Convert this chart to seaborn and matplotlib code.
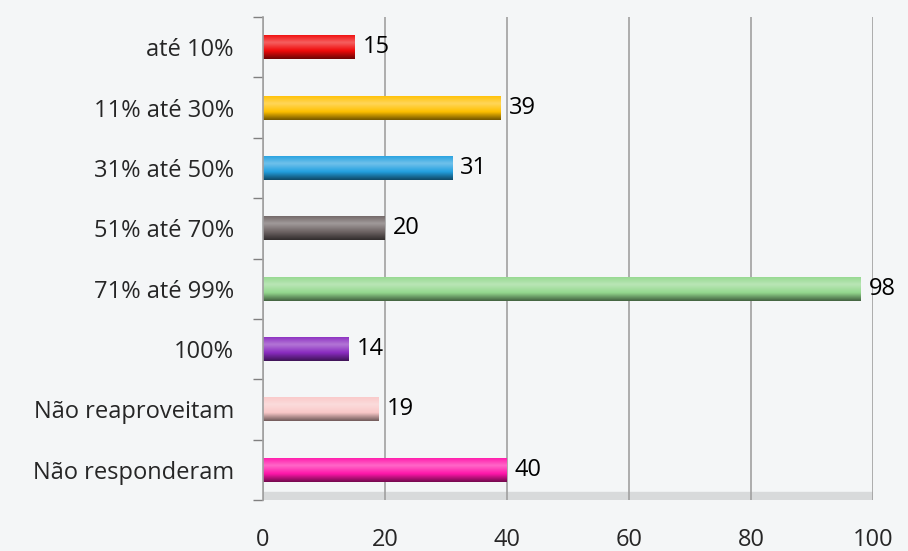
import numpy as np
import pandas as pd
import matplotlib
matplotlib.use("Agg")
import matplotlib.pyplot as plt
import seaborn as sns
from matplotlib.colors import LinearSegmentedColormap, to_rgb

# Dados
categorias = ["até 10%", "11% até 30%", "31% até 50%", "51% até 70%",
              "71% até 99%", "100%", "Não reaproveitam", "Não responderam"]
valores = [15, 39, 31, 20, 98, 14, 19, 40]
cores = ["#f00a0a", "#ffc000", "#23a0e0", "#6e6464",
         "#94d88e", "#8a2cc0", "#f9c8c8", "#ff16aa"]
ticks_x = [0, 20, 40, 60, 80, 100]

sns.set_style("white")
plt.rcParams['font.family'] = ['Open Sans', 'DejaVu Sans']

df = pd.DataFrame({"categoria": categorias, "valor": valores})

fig = plt.figure(figsize=(9.08, 5.51), dpi=100)
fig.patch.set_facecolor("#f4f6f7")
ax = fig.add_axes([0.2897, 0.0926, 0.6718, 0.8765])
ax.set_facecolor("#f4f6f7")

sns.barplot(data=df, x="valor", y="categoria", hue="categoria", palette=cores,
            width=0.4, legend=False, ax=ax, saturation=1, edgecolor="none")

# efeito cilíndrico: gradiente vertical sobre cada barra
for patch, cor in zip(ax.patches, cores):
    x0, y0 = patch.get_x(), patch.get_y()
    w, h = patch.get_width(), patch.get_height()
    base = np.array(to_rgb(cor))
    claro = base + (1 - base) * 0.35
    escuro = base * 0.45
    cmap = LinearSegmentedColormap.from_list("c", [base, claro, base, escuro])
    grad = np.linspace(0, 1, 64).reshape(-1, 1)
    im = ax.imshow(grad, cmap=cmap, aspect="auto", extent=(x0, x0 + w, y0 + h, y0),
                   zorder=patch.get_zorder() + 0.1, interpolation="bicubic")
    im.set_clip_path(patch)
    ax.text(x0 + w + 1.3, y0 + h / 2, str(int(w)), va="center", ha="left",
            fontsize=17, color="black")

ax.set_ylim(len(categorias) - 0.5, -0.5)
ax.set_xlim(0, 100)

# grade e eixos
ax.set_xticks(ticks_x)
ax.xaxis.grid(True, color="#a0a0a0", linewidth=1.2)
ax.set_axisbelow(True)
for s in ["top", "right", "bottom"]:
    ax.spines[s].set_visible(False)
ax.spines["left"].set_color("#a0a0a0")
ax.spines["left"].set_linewidth(1.2)

# "piso" 3D
ax.axhspan(len(categorias) - 0.5, len(categorias) - 0.64, color="#d8dadb", zorder=0.5)

ax.set_yticks(range(len(categorias)))
ax.set_yticks(np.arange(-0.5, len(categorias)), minor=True)
ax.tick_params(axis="y", which="major", left=False, length=0, pad=21, labelsize=17)
ax.tick_params(axis="y", which="minor", left=True, length=7, width=1,
               color="#808080", direction="out")
ax.tick_params(axis="x", length=0, pad=20, labelsize=17)
ax.set_xlabel("")
ax.set_ylabel("")

fig.savefig("out.png", dpi=100, facecolor=fig.get_facecolor())
